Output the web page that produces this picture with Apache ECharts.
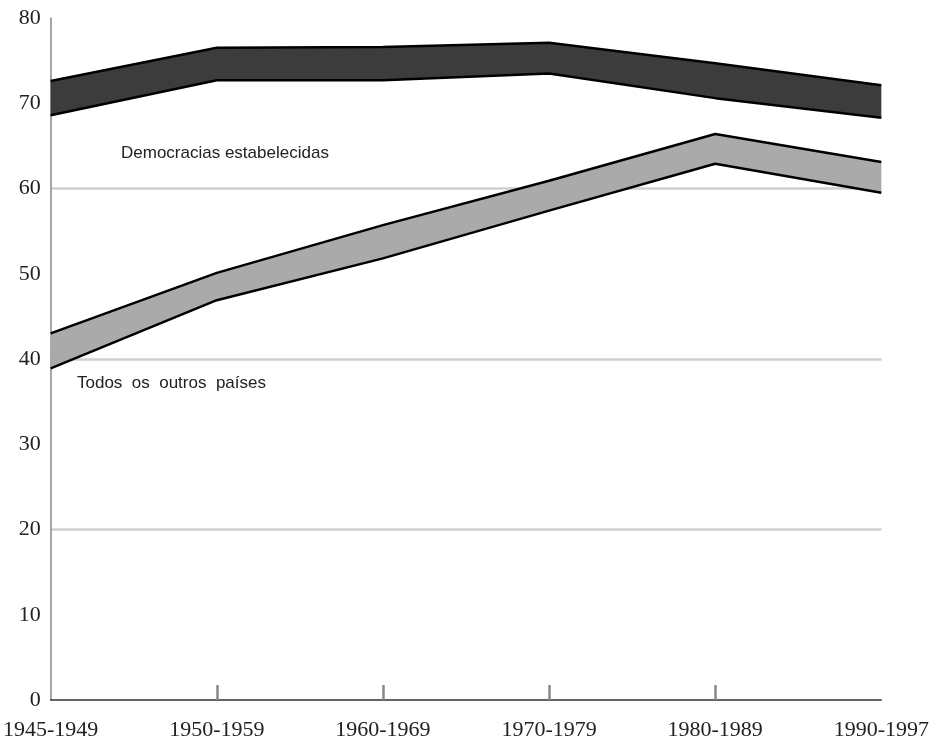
<!DOCTYPE html>
<html>
<head>
<meta charset="utf-8">
<script src="https://cdn.jsdelivr.net/npm/echarts@6/dist/echarts.min.js"></script>
<style>
  html, body { margin: 0; padding: 0; background: #fff; }
  #main { width: 932px; height: 741px; }
</style>
</head>
<body>
<div id="main"></div>
<script>
// periodos
var categories = ['1945-1949', '1950-1959', '1960-1969', '1970-1979', '1980-1989', '1990-1997'];

// democracias estabelecidas (faixa escura)
var democUpper = [72.6, 76.5, 76.6, 77.1, 74.7, 72.1];
var democLower = [68.6, 72.7, 72.7, 73.5, 70.6, 68.3];

// todos os outros paises (faixa clara)
var otherUpper = [43.0, 50.1, 55.7, 60.9, 66.4, 63.1];
var otherLower = [38.9, 46.9, 51.8, 57.4, 62.9, 59.5];

var yTicks = [0, 10, 20, 30, 40, 50, 60, 70, 80];
var gridLineValues = [20, 40, 60];

// largura da faixa = superior - inferior (para empilhar)
function bandWidth(upper, lower) {
  return upper.map(function (v, i) { return +(v - lower[i]).toFixed(2); });
}

// cor das linhas de grade: so em 20, 40, 60
var splitColors = yTicks.map(function (v) {
  return gridLineValues.indexOf(v) >= 0 ? '#cfcfcf' : 'rgba(0,0,0,0)';
});

var myChart = echarts.init(document.getElementById('main'));

var edge = { color: '#000', width: 2.5 };

var option = {
  animation: false,
  grid: { left: 50, right: 49, top: 18, bottom: 41 },
  xAxis: {
    type: 'category',
    data: categories,
    boundaryGap: false,
    axisLine: { lineStyle: { color: '#333', width: 1.5 } },
    axisTick: {
      inside: true,
      length: 15,
      lineStyle: { color: '#888', width: 2.5 },
      interval: function (i) { return i > 0 && i < categories.length - 1; }
    },
    axisLabel: {
      fontFamily: 'Liberation Serif',
      fontSize: 22,
      color: '#222',
      margin: 19,
      interval: 0
    }
  },
  yAxis: {
    type: 'value',
    min: 0,
    max: 80,
    interval: 10,
    axisLine: { show: true, lineStyle: { color: '#888', width: 1.5 } },
    axisTick: { show: false },
    axisLabel: {
      fontFamily: 'Liberation Serif',
      fontSize: 22,
      color: '#222',
      margin: 10
    },
    splitLine: { show: true, lineStyle: { color: splitColors, width: 2.5 } }
  },
  series: [
    {
      name: 'democ-base', type: 'line', stack: 'democ', data: democLower,
      symbol: 'none', lineStyle: edge, z: 3
    },
    {
      name: 'Democracias estabelecidas', type: 'line', stack: 'democ',
      data: bandWidth(democUpper, democLower),
      symbol: 'none', lineStyle: edge,
      areaStyle: { color: '#3c3c3c', opacity: 1 }, z: 3
    },
    {
      name: 'outros-base', type: 'line', stack: 'outros', data: otherLower,
      symbol: 'none', lineStyle: edge, z: 3
    },
    {
      name: 'Todos os outros países', type: 'line', stack: 'outros',
      data: bandWidth(otherUpper, otherLower),
      symbol: 'none', lineStyle: edge,
      areaStyle: { color: '#aaaaaa', opacity: 1 }, z: 3
    }
  ],
  graphic: [
    {
      type: 'text', left: 121, top: 145,
      style: { text: 'Democracias estabelecidas', fontFamily: 'Liberation Sans', fontSize: 17, fill: '#222' }
    },
    {
      type: 'text', left: 77, top: 375,
      style: { text: 'Todos  os  outros  países', fontFamily: 'Liberation Sans', fontSize: 17, fill: '#222' }
    }
  ]
};

myChart.setOption(option);
</script>
</body>
</html>
